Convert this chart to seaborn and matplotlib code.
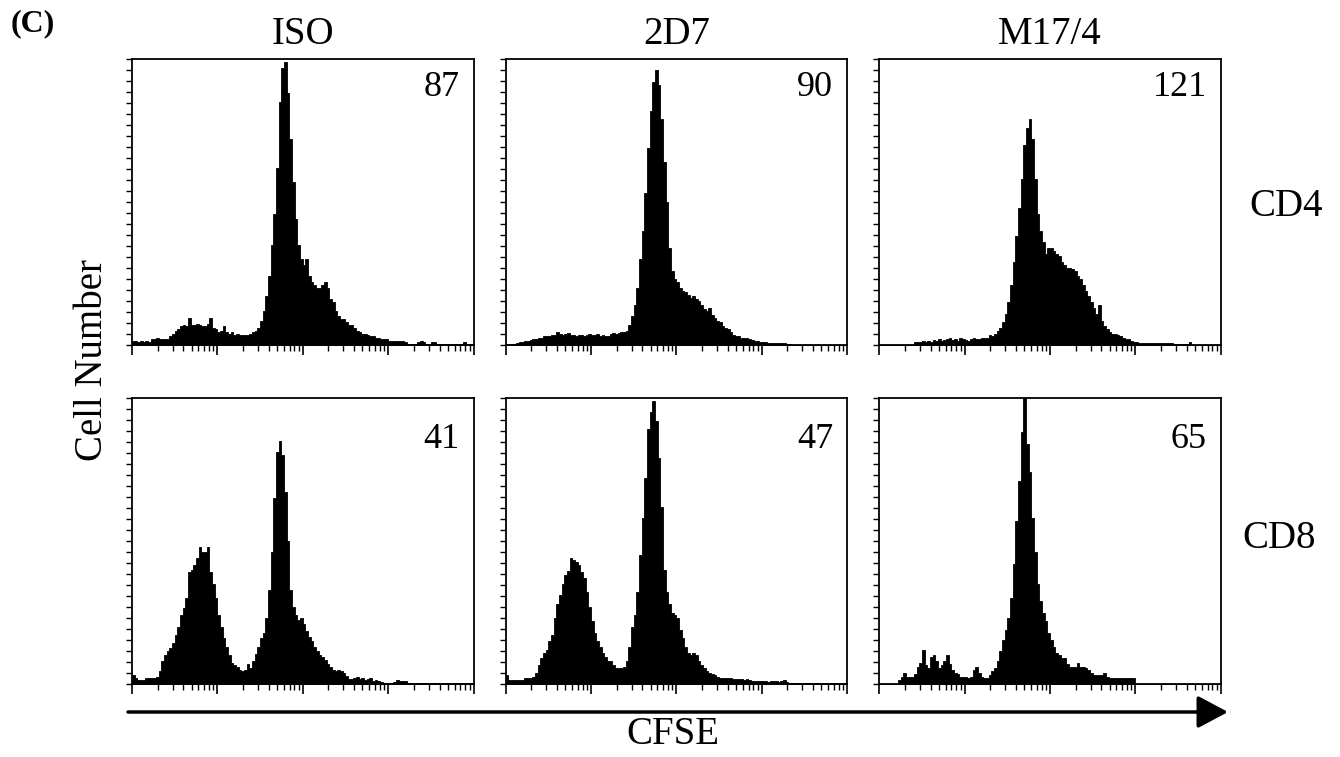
# CFSE dilution histograms, CD4 / CD8 T cells, three antibody treatments
import numpy as np
import pandas as pd
import matplotlib
matplotlib.use('Agg')
import matplotlib.pyplot as plt
from matplotlib.patches import FancyArrowPatch
import seaborn as sns

# Column / row labels and the number printed in each panel
treatments = ['ISO', '2D7', 'M17/4']
subsets = ['CD4', 'CD8']
numbers_cd4 = ['87', '90', '121']
numbers_cd8 = ['41', '47', '65']

# Cell counts per channel (128 channels over 4 log decades), as % of panel height
counts_iso_cd4 = [1.5, 1.5, 1, 1.5, 1, 1.5, 1, 2, 2, 2.5, 2, 2, 2, 2, 3,
                  4, 5, 5.5, 6.5, 7, 6.5, 9.5, 7, 7, 7.5, 7, 6.5, 6.5, 7.5, 9.5, 6, 5.5, 4.5, 5, 6.5,
                  4.5, 4, 4.5, 3.5, 4, 3.5, 3.5, 3.5, 3.5, 4, 4.5, 5, 6,
                  8.5, 12, 17, 24, 35, 46, 62, 85, 97, 99, 88, 72, 57, 44, 35, 30, 28,
                  30, 24, 22, 21, 20, 20, 21, 22, 20, 16, 15, 12, 10, 9, 9, 8, 7, 7, 6, 5,
                  4.5, 4, 4, 3.5, 3, 3, 2.5, 2.5, 2, 2, 2,
                  1.5, 1.5, 1.5, 1.5, 1.5, 1.5, 1, 0.5, 0.5, 0.5, 0.5, 1, 1.5, 1, 0.5, 0.5,
                  1, 1, 0.5, 0.5, 0.3, 0.5, 0.3, 0.3, 0.3, 0.3, 0.3, 0.5, 1, 0.5, 0.3, 0.3]
counts_2d7_cd4 = [0.3, 0.3, 0.5, 0.5, 0.8, 1, 1.2, 1.5, 1.5, 1.8,
                  2, 2.2, 2.5, 2.5, 3, 3, 3.2, 3.5, 3.5, 4.7,
                  4, 3.5, 4, 4.2, 3.5, 3.5, 3.2, 3.5, 3.5, 3.2,
                  3.5, 3.8, 3.5, 3.5, 3.8, 3.2, 3.5, 3, 3.2, 4,
                  4.2, 4, 4.3, 4.5, 4.5, 5, 7, 10, 14, 20,
                  30, 40, 53, 69, 82, 92, 96, 91, 79, 64,
                  50, 34, 26, 23, 22, 20, 19, 18.5, 17.5, 16.5,
                  17, 16, 15.5, 14, 12.5, 12, 13, 10.5, 9.5, 8.5,
                  8, 6.5, 6, 5.5, 4.5, 3.5, 3, 3, 2.5, 2.3,
                  2.3, 2, 1.8, 1.5, 1.5, 1.2, 1.2, 1, 0.9, 0.8,
                  0.8, 0.7, 0.6, 0.6, 0.6, 0.5, 0.3, 0.2, 0.2, 0.2,
                  0.2, 0.2, 0.2, 0.2, 0.2, 0.2, 0.2, 0.2, 0.2, 0.2,
                  0.2, 0.2, 0.2, 0.2, 0.2, 0.2, 0.2, 0.2]
counts_m174_cd4 = [0.2, 0.2, 0.2, 0.2, 0.2, 0.2, 0.2, 0.2, 0.2, 0.2,
                   0.2, 0.2, 0.2, 1, 1.2, 1, 1.5, 1.2, 1.5, 1.2,
                   1.8, 1.5, 2.2, 1.5, 1.8, 2, 2.5, 1.8, 2, 1.5,
                   2.5, 2, 1.8, 1.5, 2, 2.5, 2, 2.2, 2.5, 2.3,
                   2.5, 3.5, 3, 4, 5, 6, 8, 11, 15, 21,
                   29, 38, 48, 58, 70, 76, 79, 72, 58, 46,
                   40, 36, 32, 34, 34, 33, 32, 31, 29, 28,
                   27, 27, 26.5, 26, 24, 23, 21, 19, 17, 15,
                   13, 11, 14, 8.5, 6.5, 5.5, 4.5, 4, 4, 3.5,
                   3, 2.5, 2.2, 2, 1.5, 1.2, 1, 0.8, 0.8, 0.8,
                   0.8, 0.8, 0.8, 0.8, 0.8, 0.8, 0.8, 0.8, 0.8, 0.8,
                   0.4, 0.4, 0.4, 0.4, 0.4, 0.4, 1, 0.2, 0.2, 0.2,
                   0.2, 0.2, 0.2, 0.2, 0.2, 0.2, 0.2, 0.2]
counts_iso_cd8 = [3, 2, 1.4, 1.4, 1.4, 2, 2, 2, 2.2, 2.5,
                  4.5, 8, 10, 11.5, 12.5, 14.5, 17, 20, 24, 26.5,
                  30, 39, 40, 41.5, 44, 48, 46, 46, 48, 39,
                  35, 30, 24, 20, 16, 13, 10, 7.5, 6.5, 6,
                  5, 4.5, 5, 7, 5.5, 8, 10.5, 13, 16, 18,
                  23, 33, 46, 65, 81, 85, 80, 67, 50, 33,
                  27, 24, 22.5, 23, 21, 18.5, 16.5, 15, 13, 11.5,
                  10, 9.5, 8.5, 7, 6, 5, 4.5, 5, 4.5, 3.7,
                  2.8, 1.8, 1.7, 2.2, 2.5, 1.6, 2, 1.5, 1.8, 2,
                  1, 1.5, 1, 0.8, 0.5, 0.5, 0.5, 0.5, 0.8, 1.4,
                  1, 1, 1, 0.5, 0.2, 0.2, 0.2, 0.2, 0.2, 0.2,
                  0.2, 0.2, 0.2, 0.2, 0.2, 0.2, 0.2, 0.2, 0.2, 0.2,
                  0.2, 0.2, 0.2, 0.2, 0.2, 0.2, 0.2, 0.2]
counts_2d7_cd8 = [3, 1.5, 1.4, 1.4, 1.4, 1.5, 1.5, 2, 2, 2,
                  2.5, 4, 6.5, 9, 11, 12, 15, 17, 23, 28,
                  31, 35, 38, 39.5, 44, 43.5, 42.5, 41.5, 39, 37,
                  32, 27, 22, 18, 15, 13, 11, 9.5, 8, 8,
                  6.5, 5.5, 5.5, 5.5, 6, 8, 13, 20, 24, 32,
                  45, 58, 72, 89, 95, 99, 92, 79, 62, 40,
                  32, 28, 25, 24, 23, 19, 16, 13, 11, 10,
                  11, 10, 8, 6.5, 5.5, 4.5, 4, 3.5, 3, 2.6,
                  2.2, 2, 2, 2.2, 2, 1.8, 1.7, 1.7, 1.7, 1.5,
                  1.7, 1.5, 1.2, 1, 1, 1.2, 1, 1, 0.8, 1,
                  1, 1.2, 0.8, 1, 1.3, 0.8, 0.2, 0.2, 0.2, 0.2,
                  0.2, 0.2, 0.2, 0.2, 0.2, 0.2, 0.2, 0.2, 0.2, 0.2,
                  0.2, 0.2, 0.2, 0.2, 0.2, 0.2, 0.2, 0.2]
counts_m174_cd8 = [0, 0, 0, 0, 0, 0, 0, 1.5, 2.6, 4,
                   2.6, 2.6, 2.6, 3.5, 6, 7.5, 12, 6.5, 5.5, 9.5,
                   10, 8, 5.5, 6.5, 8, 10, 7, 5, 4, 3.5,
                   2.6, 2.6, 2.6, 2, 2.6, 5, 6, 4, 2.6, 2.2,
                   2, 3, 4.5, 5.5, 8, 11.5, 15.5, 19, 23, 30,
                   42, 57, 71, 88, 100, 84, 74, 58, 46, 35,
                   29, 25, 22, 18, 15.5, 13, 11, 10, 9, 9,
                   7, 6, 6, 6, 7.5, 6, 6, 5.5, 5, 3.7,
                   3, 3, 3, 3, 4, 2.5, 2, 2, 2, 2,
                   2, 2, 2, 2, 2, 2, 0, 0, 0, 0,
                   0, 0, 0, 0, 0, 0, 0, 0, 0, 0,
                   0, 0, 0, 0, 0, 0, 0, 0, 0, 0,
                   0, 0, 0, 0, 0, 0, 0, 0]

panel_counts = [[counts_iso_cd4, counts_2d7_cd4, counts_m174_cd4],
                [counts_iso_cd8, counts_2d7_cd8, counts_m174_cd8]]
panel_numbers = [numbers_cd4, numbers_cd8]

n_channels = 128
decades = 4
channel_pos = (np.arange(n_channels) + 0.5) * decades / n_channels

sns.set_style('ticks')
plt.rcParams['font.family'] = ['Liberation Serif', 'DejaVu Serif']
plt.rcParams['text.color'] = 'black'
plt.rcParams['xtick.color'] = 'black'
plt.rcParams['ytick.color'] = 'black'

fig, axes = plt.subplots(2, 3, figsize=(13.4, 7.57), dpi=100)
fig.subplots_adjust(left=0.0985, right=0.911, bottom=0.0964, top=0.922,
                    wspace=0.094, hspace=0.185)

# log minor tick positions (2..9 in each decade)
minor_x = [d + np.log10(k) for d in range(decades) for k in range(2, 10)]

for r in range(2):
    for c in range(3):
        ax = axes[r, c]
        df = pd.DataFrame({'cfse': channel_pos, 'cells': panel_counts[r][c]})
        sns.histplot(data=df, x='cfse', weights='cells', bins=n_channels,
                     binrange=(0, decades), element='step', fill=True,
                     color='black', alpha=1, linewidth=0.6, ax=ax)
        ax.set_xlim(0, decades)
        ax.set_ylim(0, 100)
        ax.set_xlabel('')
        ax.set_ylabel('')
        ax.set_xticks(range(decades + 1))
        ax.set_xticks(minor_x, minor=True)
        ax.set_yticks(np.linspace(0, 100, 27))
        ax.tick_params(axis='x', which='major', length=7, width=1.2,
                       direction='out', labelbottom=False)
        ax.tick_params(axis='x', which='minor', length=4, width=1,
                       direction='out')
        ax.tick_params(axis='y', length=4, width=1, direction='out',
                       labelleft=False)
        for s in ax.spines.values():
            s.set_visible(True)
            s.set_linewidth(1.3)
            s.set_color('black')
        y_txt = 1 - 28 / 286 if r == 0 else 1 - 42 / 286
        ax.text(1 - 14 / 341, y_txt, panel_numbers[r][c], transform=ax.transAxes,
                ha='right', va='center', fontsize=26)
        if r == 0:
            ax.set_title(treatments[c], fontsize=28, pad=11)

# row labels
fig.text(1286 / 1340, 1 - 207 / 757, subsets[0], ha='center', va='center', fontsize=28)
fig.text(1279 / 1340, 1 - 538 / 757, subsets[1], ha='center', va='center', fontsize=28)

# axis labels
fig.text(92 / 1340, 1 - 360 / 757, 'Cell Number', rotation=90,
         ha='center', va='center', fontsize=28)
fig.text(673 / 1340, 1 - 734 / 757, 'CFSE', ha='center', va='center', fontsize=28)
fig.text(33 / 1340, 1 - 24 / 757, '(C)', ha='center', va='center',
         fontsize=23, fontweight='bold')

# CFSE arrow
arrow = FancyArrowPatch((128 / 1340, 1 - 712 / 757), (1228 / 1340, 1 - 712 / 757),
                        transform=fig.transFigure,
                        arrowstyle='-|>,head_length=0.75,head_width=0.4',
                        mutation_scale=25, lw=2.5, color='black',
                        shrinkA=0, shrinkB=0)
fig.add_artist(arrow)

fig.savefig('out.png', dpi=100)
